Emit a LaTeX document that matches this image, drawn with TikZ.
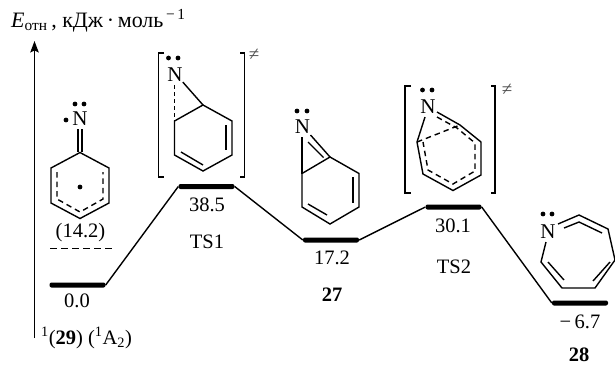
\documentclass[tikz,border=0pt]{standalone}
\usepackage{fontspec}
\setmainfont{Liberation Serif}
\usetikzlibrary{arrows.meta}
\tikzset{
  level/.style={
    shape = rectangle,
    fill,
    rounded corners = 2pt,
    inner sep = 0,
    minimum width = 56pt,
    minimum height = 5pt
  },
  lp/.style={
    shape = circle,
    fill,
    inner sep = 0,
    minimum size = 4.8pt
  },
  atom/.style={
    inner sep = 0,
    font = \fontsize{21}{22}\selectfont
  },
  lbl/.style={
    inner sep = 0,
    font = \fontsize{20.5}{22}\selectfont
  },
  bond/.style={
    line width = 1.4pt,
    line join = miter
  },
  dbond/.style={
    line width = 1.4pt,
    dash pattern = on 5.5pt off 4pt
  },
  ts/.style={
    inner sep = 0,
    text = black!70,
    font = \fontsize{19}{20}\selectfont
  }
}
\begin{document}
\begin{tikzpicture}[x=1pt,y=-1pt]
    \useasboundingbox (0,0) rectangle (615,365);
    \clip (0,0) rectangle (615,365);
    % axis
    \coordinate (axisA) at (34.5,338);
    \coordinate (axisB) at (34.5,41);
    \draw[line width=1.4pt,-{Stealth[length=11.5pt,width=8.5pt,inset=2pt]}] (axisA) -- (axisB);
    \node[lbl,anchor=base west,font=\fontsize{22}{24}\selectfont] (title) at (11,27) {\textit{E}\textsubscript{отн}\,, кДж\,·\,моль\textsuperscript{\,−\,1}};
    % levels
    \node[level] (lvlA) at (77.5,285) {};
    \node[level] (lvlB) at (206.5,186.5) {};
    \node[level] (lvlC) at (331,240) {};
    \node[level] (lvlD) at (453.5,207) {};
    \node[level] (lvlE) at (580,303) {};
    \draw[line width=1.4pt] (lvlA.east) -- (lvlB.west);
    \draw[line width=1.4pt] (lvlB.east) -- (lvlC.west);
    \draw[line width=1.4pt] (lvlC.east) -- (lvlD.west);
    \draw[line width=1.4pt] (lvlD.east) -- (lvlE.west);
    \coordinate (trpA) at (50,248.5);
    \coordinate (trpB) at (112,248.5);
    \draw[line width=1.4pt,dash pattern=on 6.5pt off 4.5pt] (trpA) -- (trpB);
    % labels
    \node[lbl] (eTrp) at (80.5,233) {(14.2)};
    \node[lbl] (eA) at (77,300.5) {0.0};
    \node[lbl,anchor=base west] (nameA) at (41,344) {\textsuperscript{1}(\textbf{29}) (\textsuperscript{1}A\textsubscript{2})};
    \node[lbl] (eB) at (207,204.5) {38.5};
    \node[lbl] (nameB) at (207,242) {TS1};
    \node[lbl] (eC) at (332,258) {17.2};
    \node[lbl] (nameC) at (332,295) {\textbf{27}};
    \node[lbl] (eD) at (453,226) {30.1};
    \node[lbl] (nameD) at (454,267) {TS2};
    \node[lbl] (eE) at (580,322) {−\,6.7};
    \node[lbl] (nameE) at (579,354.5) {\textbf{28}};
    % triplet nitrene
    \node[atom] (nA) at (80,119) {N};
    \node[lp] (lpA1) at (75,104) {};
    \node[lp] (lpA2) at (84,104) {};
    \node[lp] (lpA3) at (66,120) {};
    \node[lp] (lpA4) at (80,187) {};
    \draw[bond] (51,168) -- (80,152.5) -- (109,168) -- (109,203) -- (80,218.5) -- (51,203) -- cycle;
    \draw[bond] (78,129) -- (78,152);
    \draw[bond] (82,129) -- (82,152);
    \draw[dbond] (57,172) -- (57,199) -- (80,212) -- (103,199) -- (103,172);
    % first transition state
    \node[atom] (nB) at (175,75) {N};
    \node[lp] (lpB1) at (168.5,58) {};
    \node[lp] (lpB2) at (178,58) {};
    \coordinate (bTop) at (203,105);
    \coordinate (bUl) at (174.5,121);
    \draw[bond] (bUl) -- (bTop) -- (232,121) -- (232,155) -- (203,171) -- (174.5,155) -- cycle;
    \draw[bond] (nB.south east) -- (bTop);
    \draw[line width=1.4pt,dash pattern=on 4pt off 3pt] (174.5,85) -- (bUl);
    \draw[bond] (226,125) -- (226,150);
    \draw[bond] (181,152) -- (203,165);
    \draw[bond] (164,53) -- (158.5,53) -- (158.5,177) -- (164,177);
    \draw[bond] (240,53) -- (244.5,53) -- (244.5,177) -- (240,177);
    \node[ts] (tsB) at (254,55) {≠};
    % azirine
    \node[atom] (nC) at (302.5,127) {N};
    \node[lp] (lpC1) at (297,111) {};
    \node[lp] (lpC2) at (307,111) {};
    \coordinate (cTop) at (330,157);
    \coordinate (cUl) at (302,173.5);
    \draw[bond] (cUl) -- (cTop) -- (359,173.5) -- (359,207) -- (330,224) -- (302,207) -- cycle;
    \draw[bond] (302,137) -- (cUl);
    \draw[bond] (310.5,135) -- (cTop);
    \draw[bond] (308,142) -- (323.5,157.5);
    \draw[bond] (353,177) -- (353,203);
    \draw[bond] (308,204) -- (327,215);
    % second transition state
    \node[atom] (nD) at (428,107) {N};
    \node[lp] (lpD1) at (422.5,90) {};
    \node[lp] (lpD2) at (432,90) {};
    \coordinate (dTop) at (460,125);
    \coordinate (dLeft) at (417,142);
    \draw[bond] (425,117) -- (dLeft) -- (423,174) -- (453,190.5) -- (481,175) -- (481,142) -- (dTop) -- (437,112);
    \draw[dbond] (dLeft) -- (dTop);
    \draw[dbond] (437,117) -- (457,128) -- (475,143) -- (475,171) -- (453,184) -- (428,170) -- (423,142);
    \draw[bond] (411,86) -- (405,86) -- (405,193) -- (411,193);
    \draw[bond] (491,86) -- (495,86) -- (495,193) -- (491,193);
    \node[ts] (tsD) at (507,90) {≠};
    % azepine
    \node[atom] (nE) at (548,232) {N};
    \node[lp] (lpE1) at (543,214) {};
    \node[lp] (lpE2) at (552,214) {};
    \draw[bond] (558,224) -- (579,215) -- (608,229) -- (615,260) -- (595,288) -- (562,288) -- (541,262) -- (546,242);
    \draw[bond] (564,228) -- (579,222) -- (602,233);
    \draw[bond] (548,262) -- (564,280);
    \draw[bond] (593,281) -- (610,262);
\end{tikzpicture}
\end{document}
